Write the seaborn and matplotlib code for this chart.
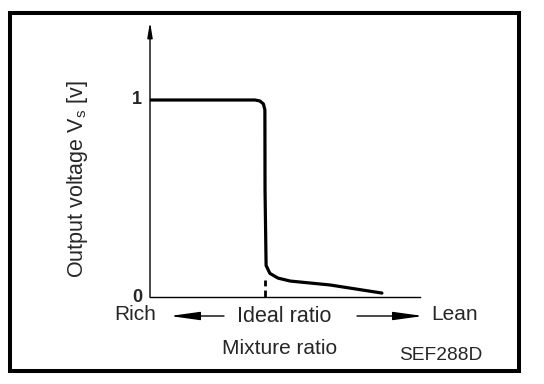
import matplotlib
matplotlib.use("Agg")
import matplotlib.pyplot as plt
import seaborn as sns
import pandas as pd
from matplotlib.patches import Rectangle, FancyArrowPatch

# Data (mixture ratio in arbitrary units, output voltage in volts)
mixture = [0.0, 3.89, 4.07, 4.20, 4.255, 4.26, 4.26, 4.30, 4.44, 4.74, 5.19, 6.67, 8.59]
voltage = [1.0, 1.0, 0.995, 0.98, 0.95, 0.90, 0.19, 0.16, 0.12, 0.096, 0.081, 0.061, 0.02]
ideal_x = 4.26
ideal_top = 0.085
ytick_vals = [0, 1]
ytick_labels = ["0", "1"]

sns.set_style("white")
plt.rcParams['font.family'] = ['Liberation Sans', 'DejaVu Sans']
plt.rcParams['mathtext.fontset'] = 'custom'
plt.rcParams['mathtext.rm'] = 'Liberation Sans'

W, H = 544, 384
fig = plt.figure(figsize=(W / 100, H / 100), dpi=100)
fig.patch.set_facecolor("white")

x0, x1, y0, ytop = 150, 420, 297, 22
ax = fig.add_axes([x0 / W, (H - y0) / H, (x1 - x0) / W, (y0 - ytop) / H])
ymax = (y0 - ytop) / 197.0
ax.set_xlim(0, 10)
ax.set_ylim(0, ymax)

df = pd.DataFrame({"mixture": mixture, "voltage": voltage})
sns.lineplot(data=df, x="mixture", y="voltage", sort=False, color="black",
             linewidth=2.3, ax=ax, solid_joinstyle="round")
ax.plot([ideal_x, ideal_x], [0, ideal_top], color="black", linewidth=2.0,
        linestyle=(0, (2.5, 1.5)))

for s in ["top", "right", "left"]:
    ax.spines[s].set_visible(False)
ax.spines["bottom"].set_color("black")
ax.spines["bottom"].set_linewidth(1.0)
ax.set_xticks([])
ax.set_yticks([])
ax.set_xlabel("")
ax.set_ylabel("")
ax.patch.set_alpha(0)

# Y axis with arrow
ax.annotate("", xy=(0, ymax), xytext=(0, 0), xycoords="data",
            arrowprops=dict(arrowstyle="-|>,head_length=0.9,head_width=0.15",
                            color="black", lw=1.0, shrinkA=0, shrinkB=0),
            annotation_clip=False)

# Y tick labels
for v, lab in zip(ytick_vals, ytick_labels):
    ax.text(-0.3, v, lab, ha="right", va="center", fontsize=13,
            fontweight="bold", transform=ax.transData)

def fp(x, y):
    return (x, H - y)

fig.text(78 / W, 1 - 179 / H, r"Output voltage V$_\mathregular{s}$ [v]", rotation=90,
         ha="center", va="center", fontsize=15.5)

fig.text(135 / W, 1 - 315 / H, "Rich", ha="center", va="center", fontsize=15)
fig.text(284 / W, 1 - 317 / H, "Ideal ratio", ha="center", va="center", fontsize=15.5)
fig.text(455 / W, 1 - 315 / H, "Lean", ha="center", va="center", fontsize=15)
fig.text(280 / W, 1 - 348 / H, "Mixture ratio", ha="center", va="center", fontsize=15)
fig.text(441 / W, 1 - 355 / H, "SEF288D", ha="center", va="center", fontsize=13.8)

arrow_kw = dict(arrowstyle="-|>,head_length=1.3,head_width=0.18", color="black",
                lw=1.0, shrinkA=0, shrinkB=0, mutation_scale=14)
fig.add_artist(FancyArrowPatch(fp(224, 316), fp(170, 316), transform=None, **arrow_kw))
fig.add_artist(FancyArrowPatch(fp(357, 316), fp(423, 316), transform=None, **arrow_kw))

# Outer border
fig.add_artist(Rectangle((10 / W, 1 - 371 / H), (519 - 10) / W, (371 - 13) / H,
                         transform=fig.transFigure, fill=False,
                         edgecolor="black", linewidth=2.9))

fig.savefig("out.png", dpi=100)
